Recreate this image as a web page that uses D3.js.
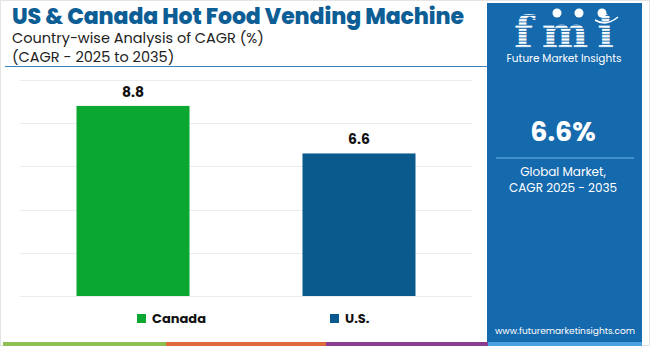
<!DOCTYPE html>
<meta charset="utf-8">
<script src="https://d3js.org/d3.v7.min.js"></script>
<style>
  body { margin: 0; background: #fff; }
  text { font-family: "Poppins", "Lato", "Open Sans", sans-serif; }
</style>
<body>
<div id="chart"></div>
<script>
// data
var countries = ["Canada", "U.S."];
var cagr = [8.8, 6.6];
var barColors = ["#0aa830", "#0b5a8e"];
var gridTicks = [0, 2, 4, 6, 8, 10];
var globalCagr = "6.6%";

var width = 650, height = 346;

var svg = d3.select("#chart").append("svg")
  .attr("width", width)
  .attr("height", height);

// outer faint border
svg.append("rect")
  .attr("x", 0.5).attr("y", 0.5)
  .attr("width", width - 1).attr("height", height - 1)
  .attr("fill", "none").attr("stroke", "#e4e4e4");

// titles
svg.append("text")
  .attr("x", 12).attr("y", 24)
  .attr("font-size", "22px").attr("font-weight", 800)
  .attr("fill", "#0e5e96")
  .attr("textLength", 452)
  .text("US & Canada Hot Food Vending Machine");

svg.append("text")
  .attr("x", 12).attr("y", 43)
  .attr("font-size", "14.5px").attr("fill", "#222")
  .text("Country-wise Analysis of CAGR (%)");

svg.append("text")
  .attr("x", 12).attr("y", 62)
  .attr("font-size", "14.5px").attr("fill", "#222")
  .text("(CAGR - 2025 to 2035)");

svg.append("line")
  .attr("x1", 5).attr("x2", 487)
  .attr("y1", 66.5).attr("y2", 66.5)
  .attr("stroke", "#3b82b8").attr("stroke-width", 1.2);

// scales
var x = d3.scaleBand()
  .domain(countries)
  .range([20, 472])
  .paddingInner(0.5)
  .paddingOuter(0.25);

var y = d3.scaleLinear()
  .domain([0, 10])
  .range([296, 80]);

// gridlines
svg.append("g")
  .selectAll("line")
  .data(gridTicks)
  .enter()
  .append("line")
  .attr("x1", 20).attr("x2", 472)
  .attr("y1", function (d) { return Math.round(y(d)) + 0.5; })
  .attr("y2", function (d) { return Math.round(y(d)) + 0.5; })
  .attr("stroke", "#ececec");

// bars
svg.append("g")
  .selectAll("rect")
  .data(countries)
  .enter()
  .append("rect")
  .attr("x", function (d) { return x(d); })
  .attr("y", function (d, i) { return y(cagr[i]); })
  .attr("width", x.bandwidth())
  .attr("height", function (d, i) { return y(0) - y(cagr[i]); })
  .attr("fill", function (d, i) { return barColors[i]; });

// value labels
svg.append("g")
  .selectAll("text")
  .data(countries)
  .enter()
  .append("text")
  .attr("x", function (d) { return x(d) + x.bandwidth() / 2; })
  .attr("y", function (d, i) { return y(cagr[i]) - 9; })
  .attr("text-anchor", "middle")
  .attr("font-size", "14px").attr("font-weight", 700)
  .attr("fill", "#111")
  .text(function (d, i) { return cagr[i].toFixed(1); });

// legend
var legendX = [137, 330];
var legend = svg.append("g")
  .selectAll("g")
  .data(countries)
  .enter()
  .append("g")
  .attr("transform", function (d, i) { return "translate(" + legendX[i] + ",314)"; });

legend.append("rect")
  .attr("width", 9).attr("height", 9)
  .attr("fill", function (d, i) { return barColors[i]; });

legend.append("text")
  .attr("x", 15).attr("y", 9)
  .attr("font-size", "13px").attr("font-weight", 700)
  .attr("fill", "#111")
  .text(function (d) { return d; });

// bottom stripe
var stripe = [["#8dbf52", 3, 166], ["#e06a3c", 166, 326], ["#8a3c8e", 326, 488], ["#4aa3df", 488, 642]];
svg.append("g")
  .selectAll("rect")
  .data(stripe)
  .enter()
  .append("rect")
  .attr("x", function (d) { return d[1]; })
  .attr("y", 342)
  .attr("width", function (d) { return d[2] - d[1]; })
  .attr("height", 4)
  .attr("fill", function (d) { return d[0]; });

// right panel
var panel = svg.append("g");
panel.append("rect")
  .attr("x", 487).attr("y", 3)
  .attr("width", 155).attr("height", 339)
  .attr("fill", "#1569ad");

// logo stripes pattern
var defs = svg.append("defs");
var pat = defs.append("pattern")
  .attr("id", "stripes")
  .attr("patternUnits", "userSpaceOnUse")
  .attr("width", 4).attr("height", 3.2);
pat.append("rect").attr("width", 4).attr("height", 2.2).attr("fill", "#fff");

panel.append("text")
  .attr("x", 564).attr("y", 48)
  .attr("text-anchor", "middle")
  .attr("font-size", "44px").attr("font-weight", 700)
  .attr("fill", "url(#stripes)")
  .attr("textLength", 100)
  .style("font-family", "DejaVu Serif")
  .text("fmi");

// small icons above the logo
[[557, 13], [579, 13], [602, 13]].forEach(function (p) {
  panel.append("circle")
    .attr("cx", p[0]).attr("cy", p[1]).attr("r", 4.5)
    .attr("fill", "#fff");
});
panel.append("path")
  .attr("d", "M595,20 Q606,27 618,17")
  .attr("fill", "none").attr("stroke", "#fff").attr("stroke-width", 1.5);

panel.append("text")
  .attr("x", 564).attr("y", 62)
  .attr("text-anchor", "middle")
  .attr("font-size", "10.5px").attr("fill", "#fff")
  .text("Future Market Insights");

panel.append("text")
  .attr("x", 563).attr("y", 141)
  .attr("text-anchor", "middle")
  .attr("font-size", "27px").attr("font-weight", 700)
  .attr("fill", "#fff")
  .text(globalCagr);

panel.append("line")
  .attr("x1", 496).attr("x2", 634)
  .attr("y1", 158).attr("y2", 158)
  .attr("stroke", "#6cb8ec").attr("stroke-width", 1.2);

panel.append("text")
  .attr("x", 563).attr("y", 176)
  .attr("text-anchor", "middle")
  .attr("font-size", "12px").attr("fill", "#fff")
  .text("Global Market,");

panel.append("text")
  .attr("x", 563).attr("y", 192)
  .attr("text-anchor", "middle")
  .attr("font-size", "12px").attr("fill", "#fff")
  .text("CAGR 2025 - 2035");

panel.append("text")
  .attr("x", 565).attr("y", 334)
  .attr("text-anchor", "middle")
  .attr("font-size", "9px").attr("fill", "#fff")
  .text("www.futuremarketinsights.com");
</script>
</body>
